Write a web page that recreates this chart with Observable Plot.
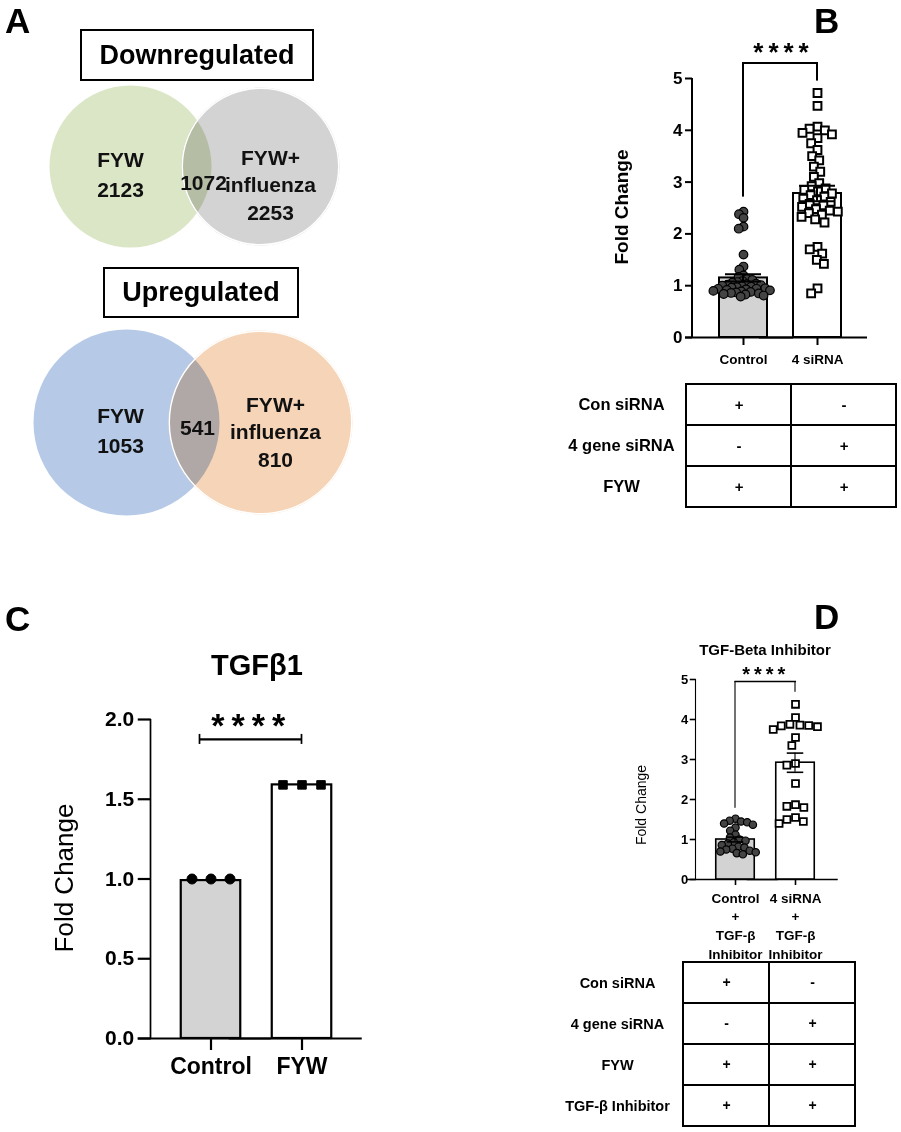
<!DOCTYPE html>
<html><head><meta charset="utf-8">
<script src="https://cdn.jsdelivr.net/npm/d3@7"></script>
<script src="https://cdn.jsdelivr.net/npm/@observablehq/plot@0.6"></script>
<style>
html,body{margin:0;padding:0;background:#fff;}
#fig{position:relative;width:901px;height:1132px;overflow:hidden;font-family:"Liberation Sans",Arial,sans-serif;color:#000;background:#fff;}
#fig > *{position:absolute;}
.plabel{font-weight:bold;font-size:35px;line-height:1.1;}
.box{border:2px solid #000;box-sizing:border-box;display:flex;align-items:center;justify-content:center;font-weight:bold;font-size:27px;}
.rot{transform:translate(-50%,-50%) rotate(-90deg);white-space:nowrap;line-height:1;}
.ctr{transform:translate(-50%,-50%);white-space:nowrap;line-height:1;}
</style></head><body><div id="fig"></div><script>
// ---------------- DATA ----------------
// Panel A (Venn)
const vennDownNames = ["FYW", "FYW+\ninfluenza"];
const vennDownCounts = [2123, 2253];
const vennDownOverlap = 1072;
const vennUpNames = ["FYW", "FYW+\ninfluenza"];
const vennUpCounts = [1053, 810];
const vennUpOverlap = 541;

// Panel B
const groupsB = ["Control", "4 siRNA"];
const xLabelsB = ["Control", "4 siRNA"];
const meansB = [1.15, 2.78];
const semsB = [0.07, 0.15];
const controlB = [2.43, 2.38, 2.31, 2.14, 2.1, 1.6, 1.37, 1.31, 1.2, 1.17, 1.13, 1.11, 1.09, 1.07, 1.06, 1.04, 1.03, 1.02, 1.01, 1.0, 0.99, 0.98, 0.97, 0.96, 0.95, 0.94, 0.94, 0.93, 0.92, 0.91, 0.9, 0.89, 0.88, 0.87, 0.86, 0.85, 0.84, 0.83, 0.81, 0.79];
const sirnaB = [4.72, 4.47, 4.07, 4.03, 4.0, 3.95, 3.92, 3.85, 3.75, 3.62, 3.5, 3.42, 3.3, 3.2, 3.1, 2.98, 2.92, 2.88, 2.85, 2.82, 2.78, 2.75, 2.72, 2.68, 2.65, 2.62, 2.58, 2.55, 2.52, 2.48, 2.45, 2.43, 2.4, 2.37, 2.33, 2.28, 2.22, 1.75, 1.7, 1.62, 1.5, 1.42, 0.95, 0.85];
const yTicksB = [0, 1, 2, 3, 4, 5];
const sigB = {label: "****", y: 5.3, left: 2.71, right: 4.95};
const tableRowsB = ["Con siRNA", "4 gene siRNA", "FYW"];
const tableSignsB = [["+", "-", "+"], ["-", "+", "+"]];

// Panel C
const groupsC = ["Control", "FYW"];
const meansC = [0.99, 1.59];
const semsC = [0, 0];
const controlC = [1.0, 1.0, 1.0];
const fywC = [1.59, 1.59, 1.59];
const yTicksC = [0, 0.5, 1.0, 1.5, 2.0];
const sigC = {label: "****", y: 1.875};

// Panel D
const groupsD = ["Control", "4 siRNA"];
const xLabelsD = ["Control\n+\nTGF-β\nInhibitor", "4 siRNA\n+\nTGF-β\nInhibitor"];
const meansD = [1.0, 2.92];
const semsD = [0.06, 0.24];
const controlD = [1.52, 1.47, 1.45, 1.43, 1.4, 1.37, 1.3, 1.22, 1.12, 1.05, 1.0, 0.97, 0.93, 0.9, 0.86, 0.82, 0.8, 0.77, 0.75, 0.72, 0.7, 0.68, 0.66, 0.63];
const sirnaD = [4.38, 4.05, 3.88, 3.86, 3.85, 3.84, 3.82, 3.75, 3.55, 3.35, 2.9, 2.86, 2.4, 1.87, 1.83, 1.8, 1.55, 1.5, 1.45, 1.4];
const yTicksD = [0, 1, 2, 3, 4, 5];
const sigD = {label: "****", y: 4.95, left: 1.78, right: 4.68};
const tableRowsD = ["Con siRNA", "4 gene siRNA", "FYW", "TGF-β Inhibitor"];
const tableSignsD = [["+", "-", "+", "+"], ["-", "+", "+", "+"]];

// ---------------- HELPERS ----------------
const FONT = "Liberation Sans, Arial, sans-serif";
const fig = document.getElementById("fig");
function put(el, left, top) { el.style.left = left + "px"; el.style.top = top + "px"; fig.appendChild(el); return el; }
function html(tag, cls, text, style) {
  const el = document.createElement(tag); if (cls) el.className = cls; el.textContent = text;
  Object.assign(el.style, style || {}); return el;
}
const baseStyle = {background: "transparent", fontFamily: FONT, color: "black", overflow: "visible"};

function vennPanel(v) {
  const sets = v.names.map((n, i) => ({name: n, count: v.counts[i], pos: i, color: v.colors[i]}));
  const marks = [
    Plot.dot([sets[0]], {x: "pos", r: v.r[0], fill: "color"}),
    Plot.dot([sets[1]], {x: "pos", r: v.r[1], fill: "color", mixBlendMode: "multiply"}),
    Plot.dot([sets[1]], {x: "pos", r: v.r[1] - 0.75, fill: "none", stroke: "white", strokeWidth: 1.5})
  ];
  sets.forEach((s, i) => marks.push(Plot.text([s], {x: "pos", text: d => d.name + "\n" + d.count,
    dx: v.labelDx[i], dy: v.labelDy[i], fontSize: 21, fontWeight: "bold", lineHeight: v.lh[i], fill: "#111"})));
  marks.push(Plot.text([v.overlap], {x: () => 0.5, text: d => String(d), dx: v.ovDx, dy: v.ovDy, fontSize: 21, fontWeight: "bold", fill: "#111"}));
  const svg = Plot.plot({width: 360, height: v.h, margin: 0, x: {domain: [0, 1], range: v.xRange, axis: null},
    style: baseStyle, marks});
  return put(svg, 0, v.top);
}

function barPanel(c) {
  const g = c.geom;
  const f1 = g.c1 - g.step / 2, f2 = g.c1 + 1.5 * g.step;
  const mL = f1 - g.left, mR = g.left + g.w - f2, mT = g.yTop - g.top, mB = g.top + g.h - g.yBot;
  const axDx = g.axisX - f1;
  const pxPerUnit = (g.yBot - g.yTop) / (c.yDomain[1] - c.yDomain[0]);
  const barInset = (g.step - g.barW) / 2;
  const lineInset = (g.step - g.lw) / 2;
  const capInset = (g.step - g.capW) / 2;
  const bars = c.groups.map((grp, i) => ({group: grp, mean: c.means[i], sem: c.sems[i], fill: c.fills[i]}));
  const errBars = bars.filter(d => d.sem > 0);
  const marks = [];
  // x baseline
  marks.push(Plot.ruleY([c.yDomain[0]], {insetLeft: -(f1 - g.baseL), insetRight: -(g.baseR - f2), strokeWidth: g.lw}));
  // y axis line
  marks.push(Plot.barY([c.groups[0]], {fx: d => d, y1: c.yDomain[0], y2: c.yDomain[1], fill: "black",
    insetLeft: axDx - g.lw / 2, insetRight: g.step - axDx - g.lw / 2}));
  // bars
  marks.push(Plot.barY(bars, {fx: "group", y: "mean", fill: "fill", stroke: "black", strokeWidth: g.lw, insetLeft: barInset, insetRight: barInset}));
  // points
  c.groups.forEach((grp, i) => {
    const st = c.dots[i];
    const pts = c.points[i].map(v => ({group: grp, value: v}));
    marks.push(Plot.dot(pts, Plot.dodgeX({anchor: "middle", r: st.dodgeR, padding: st.pad},
      {fx: "group", y: "value", r: st.r, symbol: st.symbol, fill: st.fill, stroke: st.stroke, strokeWidth: st.sw})));
  });
  // error bars
  marks.push(Plot.barY(errBars, {fx: "group", y1: d => d.mean - d.sem, y2: d => d.mean + d.sem, fill: "black", insetLeft: lineInset, insetRight: lineInset}));
  marks.push(Plot.tickY(errBars, {fx: "group", y: d => d.mean + d.sem, strokeWidth: g.lw, insetLeft: capInset, insetRight: capInset}));
  marks.push(Plot.tickY(errBars, {fx: "group", y: d => d.mean - d.sem, strokeWidth: g.lw, insetLeft: capInset, insetRight: capInset}));
  // significance
  const br = [{from: c.groups[0], to: c.groups[1], ...c.sig}];
  if (c.bracket === "legs") {
    marks.push(Plot.barY(br, {fx: "from", y1: "left", y2: "y", fill: "black", insetLeft: lineInset, insetRight: lineInset}));
    marks.push(Plot.barY(br, {fx: "to", y1: "right", y2: "y", fill: "black", insetLeft: lineInset, insetRight: lineInset}));
    marks.push(Plot.tickY(br, {fx: "from", y: "y", strokeWidth: g.lw, insetLeft: g.step / 2 - g.lw / 2, insetRight: -g.step / 2 - g.lw / 2}));
  } else {
    const e = c.capH / pxPerUnit;
    const ext = c.leftExt;
    marks.push(Plot.tickY(br, {fx: "from", y: "y", strokeWidth: g.lw, insetLeft: g.step / 2 - ext, insetRight: -g.step / 2}));
    marks.push(Plot.barY(br, {fx: "from", y1: d => d.y - e, y2: d => d.y + e, fill: "black", insetLeft: g.step / 2 - ext - g.lw / 2, insetRight: g.step / 2 + ext - g.lw / 2}));
    marks.push(Plot.barY(br, {fx: "to", y1: d => d.y - e, y2: d => d.y + e, fill: "black", insetLeft: lineInset, insetRight: lineInset}));
  }
  marks.push(Plot.text(br, {fx: "from", y: "y", text: "label", dx: g.step / 2 + c.starDx, dy: c.starDy, fontSize: c.starSize, fontWeight: "bold"}));
  // axes
  marks.push(Plot.axisY({ticks: c.yTicks, tickFormat: c.tickFormat, tickSize: g.tick, strokeWidth: g.lw, dx: axDx,
    fontSize: c.tickFont, fontWeight: "bold", label: null, tickPadding: c.tickPad}));
  marks.push(Plot.axisFx({anchor: "bottom", tickSize: g.xtick, strokeWidth: g.lw, fontSize: c.xFont, fontWeight: "bold",
    label: null, tickPadding: c.xPad, lineHeight: c.xLineHeight || 1.1, tickFormat: d => c.xLabels[c.groups.indexOf(d)]}));
  const svg = Plot.plot({width: g.w, height: g.h, marginTop: mT, marginRight: mR, marginBottom: mB, marginLeft: mL,
    fx: {domain: c.groups, padding: 0}, y: {domain: c.yDomain}, style: baseStyle, marks});
  svg.querySelectorAll("text").forEach(t => { if (t.textContent === "****") t.setAttribute("letter-spacing", c.starLs); });
  return put(svg, g.left, g.top);
}

function tablePanel(t) {
  const cells = [];
  t.rows.forEach((r, i) => t.groups.forEach((grp, j) => cells.push({row: r, group: grp, sign: t.signs[j][i]})));
  const svg = Plot.plot({width: t.w, height: t.h, marginLeft: t.x0 - t.left, marginRight: t.left + t.w - t.x1,
    marginTop: t.y0 - t.top, marginBottom: t.top + t.h - t.y1,
    x: {domain: t.groups, padding: 0, axis: null}, y: {domain: t.rows, padding: 0, axis: null}, style: baseStyle,
    marks: [
      Plot.cell(cells, {x: "group", y: "row", fill: "white", stroke: "black", strokeWidth: 2, inset: 0}),
      Plot.text(cells, {x: "group", y: "row", text: "sign", fontSize: t.signFont, fontWeight: "bold"}),
      Plot.text(t.rows, {y: d => d, frameAnchor: "left", dx: t.labelX - t.x0, text: d => d, fontSize: t.labelFont, fontWeight: "bold", textAnchor: "middle"})
    ]});
  return put(svg, t.left, t.top);
}

// ---------------- PANEL A ----------------
put(html("div", "plabel", "A"), 5, 2);
put(html("div", "box", "Downregulated", {width: "234px", height: "52px"}), 80, 29);
vennPanel({names: vennDownNames, counts: vennDownCounts, overlap: vennDownOverlap, colors: ["#dbe6c6", "#d3d3d3"],
  top: 80, h: 172, xRange: [130, 260], r: [81, 79], labelDx: [-10, 10], labelDy: [6, 17], lh: [1.42, 1.3], ovDx: 8, ovDy: 17});
put(html("div", "box", "Upregulated", {width: "196px", height: "51px"}), 103, 267);
vennPanel({names: vennUpNames, counts: vennUpCounts, overlap: vennUpOverlap, colors: ["#b6cae8", "#f5d4b8"],
  top: 322, h: 200, xRange: [126, 260], r: [93, 92], labelDx: [-6, 15], labelDy: [6, 8], lh: [1.42, 1.3], ovDx: 4, ovDy: 6});

// ---------------- PANEL B ----------------
put(html("div", "plabel", "B"), 814, 2);
put(html("div", "rot", "Fold Change", {fontWeight: "bold", fontSize: "19px"}), 621, 207);
barPanel({groups: groupsB, xLabels: xLabelsB, means: meansB, sems: semsB, points: [controlB, sirnaB], fills: ["#d3d3d3", "white"],
  yDomain: [0, 5], yTicks: yTicksB, tickFormat: d3.format("d"), tickFont: 17, tickPad: 3, xFont: 13.5, xPad: 8,
  sig: sigB, bracket: "legs", starSize: 26, starDx: 3, starDy: -10, starLs: "5px",
  dots: [{r: 4.3, dodgeR: 2.6, pad: 0, symbol: "circle", fill: "#444", stroke: "#000", sw: 1.2},
         {r: 4.4, dodgeR: 4.1, pad: 0, symbol: "square", fill: "white", stroke: "#000", sw: 2}],
  geom: {left: 580, top: 20, w: 300, h: 360, c1: 743, step: 74, barW: 48, axisX: 692, baseL: 685, baseR: 867,
    yTop: 78, yBot: 337, lw: 2, tick: 7, xtick: 8, capW: 36}});
tablePanel({groups: groupsB, rows: tableRowsB, signs: tableSignsB, left: 540, top: 373, w: 361, h: 140,
  x0: 686, x1: 896, y0: 383, y1: 507, labelX: 621, labelFont: 16.5, signFont: 15});

// ---------------- PANEL C ----------------
put(html("div", "plabel", "C"), 5, 600);
put(html("div", "ctr", "TGFβ1", {fontWeight: "bold", fontSize: "29px"}), 257, 665);
put(html("div", "rot", "Fold Change", {fontSize: "26px"}), 64, 878);
barPanel({groups: groupsC, xLabels: groupsC, means: meansC, sems: semsC, points: [controlC, fywC], fills: ["#d3d3d3", "white"],
  yDomain: [0, 2], yTicks: yTicksC, tickFormat: d3.format(".1f"), tickFont: 21, tickPad: 4, xFont: 23, xPad: 6,
  sig: sigC, bracket: "flat", capH: 5, leftExt: 11, starSize: 34, starDx: -5, starDy: -13, starLs: "7px",
  dots: [{r: 5, dodgeR: 4.5, pad: 10, symbol: "circle", fill: "#000", stroke: "#000", sw: 1},
         {r: 4.8, dodgeR: 4.5, pad: 10, symbol: "square", fill: "#000", stroke: "#000", sw: 1}],
  geom: {left: 90, top: 680, w: 290, h: 420, c1: 210, step: 91.5, barW: 60, axisX: 150, baseL: 137, baseR: 362,
    yTop: 719, yBot: 1038, lw: 2.2, tick: 13, xtick: 12, capW: 40}});

// ---------------- PANEL D ----------------
put(html("div", "plabel", "D"), 814, 598);
put(html("div", "ctr", "TGF-Beta Inhibitor", {fontWeight: "bold", fontSize: "15px"}), 765, 649);
put(html("div", "rot", "Fold Change", {fontSize: "14px"}), 641, 805);
barPanel({groups: groupsD, xLabels: xLabelsD, means: meansD, sems: semsD, points: [controlD, sirnaD], fills: ["#d3d3d3", "white"],
  yDomain: [0, 5], yTicks: yTicksD, tickFormat: d3.format("d"), tickFont: 13, tickPad: 2, xFont: 13.5, xPad: 4, xLineHeight: 1.38,
  sig: sigD, bracket: "legs", starSize: 20, starDx: 0, starDy: -7, starLs: "4px",
  dots: [{r: 3.7, dodgeR: 3.1, pad: 0, symbol: "circle", fill: "#444", stroke: "#000", sw: 1.2},
         {r: 3.9, dodgeR: 3.9, pad: 1, symbol: "square", fill: "white", stroke: "#000", sw: 1.8}],
  geom: {left: 600, top: 650, w: 280, h: 310, c1: 734.5, step: 60.5, barW: 39, axisX: 695, baseL: 686, baseR: 838,
    yTop: 679, yBot: 879, lw: 1.6, tick: 6, xtick: 6, capW: 17}});
tablePanel({groups: groupsD, rows: tableRowsD, signs: tableSignsD, left: 540, top: 955, w: 340, h: 177,
  x0: 682, x1: 855, y0: 961, y1: 1126, labelX: 617, labelFont: 14.5, signFont: 14});
</script></body></html>
